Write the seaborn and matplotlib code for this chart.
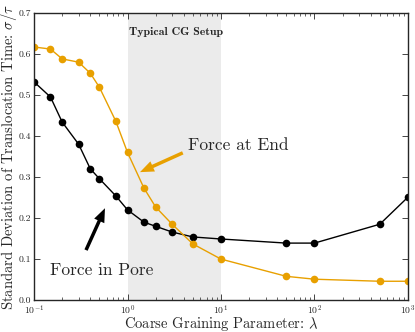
import numpy as np
import pandas as pd
import matplotlib
matplotlib.use('Agg')
import matplotlib.pyplot as plt
import seaborn as sns

# coarse graining parameter (lambda) values
lam = [0.1, 0.15, 0.2, 0.3, 0.4, 0.5, 0.75, 1, 1.5, 2, 3, 5, 10, 50, 100, 500, 1000]
# std dev of translocation time, force in pore
pore = [0.532, 0.495, 0.434, 0.38, 0.32, 0.296, 0.254, 0.22, 0.19, 0.18,
        0.166, 0.154, 0.149, 0.139, 0.139, 0.185, 0.251]
# std dev of translocation time, force at end
end = [0.617, 0.612, 0.588, 0.58, 0.553, 0.519, 0.436, 0.36, 0.273, 0.227,
       0.185, 0.137, 0.10, 0.058, 0.051, 0.046, 0.046]

df = pd.DataFrame({'lam': lam * 2,
                   'sd': pore + end,
                   'case': ['Force in Pore'] * len(lam) + ['Force at End'] * len(lam)})

sns.set_style('ticks')
plt.rcParams['font.family'] = ['cmr10', 'DejaVu Serif']
plt.rcParams['mathtext.fontset'] = 'cm'
plt.rcParams['axes.formatter.use_mathtext'] = True
plt.rcParams['axes.unicode_minus'] = False

fig = plt.figure(figsize=(4.15, 3.32), dpi=100)
ax = fig.add_axes([0.082, 0.096, 0.901, 0.865])

# shaded "typical" region
ax.axvspan(1, 10, color='#ebebeb', zorder=0, lw=0)

sns.lineplot(data=df, x='lam', y='sd', hue='case',
             palette={'Force in Pore': 'black', 'Force at End': '#E8A000'},
             marker='o', markersize=5.5, markeredgewidth=0, linewidth=1,
             legend=False, ax=ax)

ax.set_xscale('log')
ax.set_xlim(0.1, 1000)
ax.set_ylim(0, 0.7)
ax.set_yticks(np.arange(0, 0.71, 0.1))
ax.set_yticklabels([f'{v:.1f}' for v in np.arange(0, 0.71, 0.1)])
ax.tick_params(which='both', direction='in', top=True, right=True, labelsize=7, pad=2)
ax.tick_params(which='major', length=4, width=0.6)
ax.tick_params(which='minor', length=2, width=0.5)
for s in ax.spines.values():
    s.set_linewidth(1.0)

ax.set_xlabel(r'Coarse Graining Parameter: $\lambda$', fontsize=10.5, labelpad=-1)
ax.set_ylabel(r'Standard Deviation of Translocation Time: $\sigma/\tau$',
              fontsize=10.5, labelpad=0)

ax.text(3.3, 0.654, 'Typical CG Setup', family='cmb10', fontsize=8.5,
        ha='center', va='center')

arrow = 'simple,head_length=1.0,head_width=0.8,tail_width=0.25'
ax.text(4.4, 0.378, 'Force at End', fontsize=12.5, va='center', ha='left')
ax.annotate('', xy=(1.36, 0.312), xytext=(3.9, 0.359),
            arrowprops=dict(arrowstyle=arrow, color='#E8A000', lw=0,
                            shrinkA=0, shrinkB=0))
ax.text(0.148, 0.073, 'Force in Pore', fontsize=12.5, va='center', ha='left')
ax.annotate('', xy=(0.574, 0.224), xytext=(0.36, 0.122),
            arrowprops=dict(arrowstyle=arrow, color='black', lw=0,
                            shrinkA=0, shrinkB=0))

fig.savefig('out.png', dpi=100)
